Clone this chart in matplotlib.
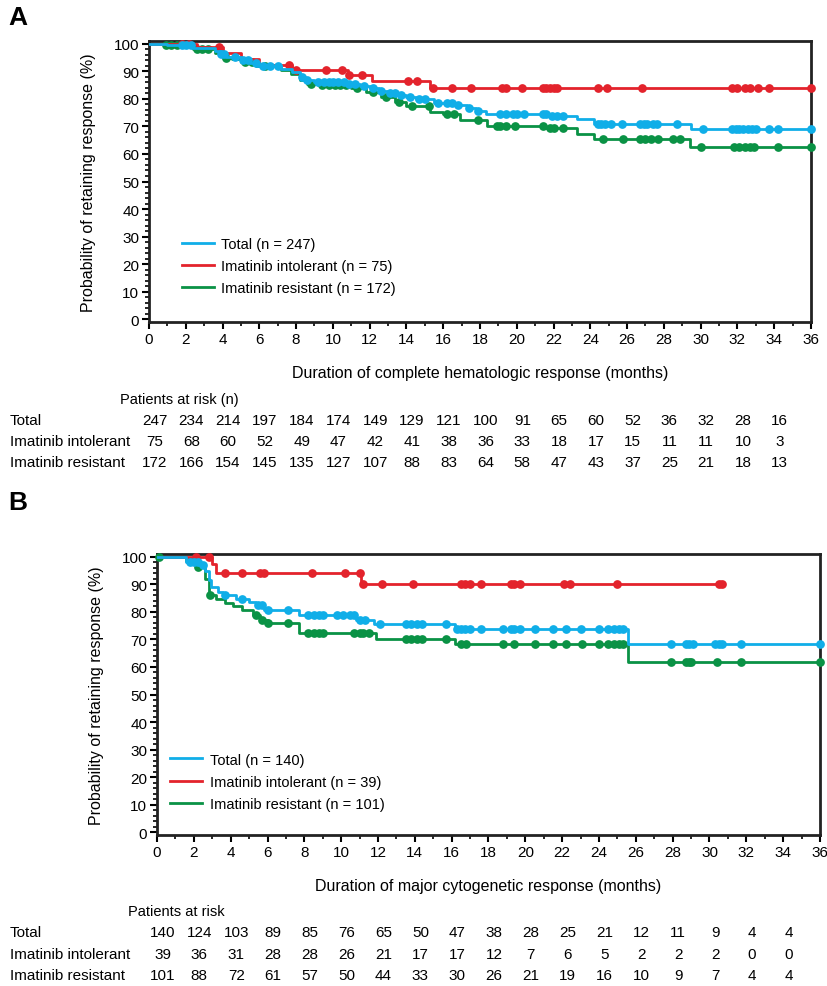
import numpy as np
import matplotlib
matplotlib.use("Agg")
import matplotlib.pyplot as plt
import matplotlib.transforms as mtransforms
from matplotlib.ticker import MultipleLocator

plt.rcParams['font.family'] = ['Liberation Sans', 'DejaVu Sans']

BLUE = "#10aee8"
RED = "#e3232c"
GREEN = "#0a9245"

# ---- Panel A: duration of complete hematologic response ----
a_total_t = [0, 1.0, 2.4, 3.6, 3.9, 4.2, 5.0, 5.5, 5.9, 7.2, 7.8, 8.2, 8.5, 9.0, 10.8, 11.5, 12.0,
             12.5, 13.0, 13.5, 14.0, 14.5, 15.5, 16.8, 17.3, 17.8, 18.3, 21.8, 23.3, 24.2, 29.5]
a_total_s = [100, 99.6, 98.6, 97.5, 96.2, 95.3, 94.0, 93.0, 92.0, 91.0, 89.7, 88.0, 86.7, 86.0, 85.5, 84.6, 84.0,
             83.0, 82.3, 81.5, 80.6, 79.8, 78.5, 77.6, 76.6, 75.6, 74.4, 73.6, 72.8, 70.7, 68.9]
a_total_c = [1.8, 2.0, 2.3, 3.9, 4.1, 4.7, 5.1, 5.4, 5.8, 6.2, 6.6, 7.0, 8.3, 8.6, 9.2, 9.5, 9.8, 10.0,
             10.3, 10.6, 10.9, 11.2, 11.7, 12.2, 12.6, 13.1, 13.4, 13.7, 14.2, 14.7, 15.0, 15.7, 16.2,
             16.5, 16.8, 17.4, 17.9, 19.1, 19.4, 19.8, 20.0, 20.4, 21.4, 21.6, 21.9, 22.2, 22.5, 24.4,
             24.6, 24.8, 25.1, 25.7, 26.7, 26.9, 27.1, 27.4, 27.6, 28.7, 30.1, 31.7, 31.9, 32.1, 32.3,
             32.6, 32.8, 33.0, 33.7, 34.2, 36.0]

a_intol_t = [0, 2.6, 4.0, 5.0, 6.0, 7.8, 10.8, 12.1, 15.3]
a_intol_s = [100, 99.0, 96.5, 94.5, 92.3, 90.3, 88.6, 86.3, 84.0]
a_intol_c = [1.8, 2.2, 3.8, 7.6, 8.0, 9.6, 10.5, 10.9, 11.6, 14.1, 14.6, 15.45, 16.5, 17.5, 19.2,
             19.4, 20.3, 21.4, 21.6, 21.8, 22.0, 22.2, 24.4, 24.9, 26.8, 31.7, 32.0, 32.4, 32.7,
             33.1, 33.7, 36.0]

a_resis_t = [0, 0.8, 2.4, 3.6, 4.0, 4.5, 5.0, 5.8, 7.2, 7.7, 8.2, 8.6, 9.2, 11.0, 11.8, 12.6, 13.4,
             14.0, 15.3, 16.0, 16.9, 18.4, 21.6, 23.3, 24.2, 29.4]
a_resis_s = [100, 99.6, 98.2, 96.5, 95.0, 94.5, 93.5, 92.0, 90.5, 89.0, 87.0, 85.5, 85.0, 84.0, 82.5,
             80.5, 79.0, 77.5, 75.4, 74.5, 72.5, 70.2, 69.3, 67.1, 65.6, 62.6]
a_resis_c = [0.9, 1.2, 1.5, 2.6, 2.9, 3.2, 4.2, 5.2, 5.6, 6.3, 8.8, 9.4, 9.8, 10.1, 10.4, 10.7, 11.3,
             12.2, 12.9, 13.6, 14.3, 15.2, 16.2, 16.6, 17.9, 18.9, 19.1, 19.4, 19.9, 21.4, 21.8,
             22.0, 22.5, 24.7, 25.8, 26.7, 27.0, 27.3, 27.7, 28.5, 28.9, 30.0, 31.8, 32.1, 32.4,
             32.7, 32.9, 34.2, 36.0]

a_risk_total = [247, 234, 214, 197, 184, 174, 149, 129, 121, 100, 91, 65, 60, 52, 36, 32, 28, 16]
a_risk_intol = [75, 68, 60, 52, 49, 47, 42, 41, 38, 36, 33, 18, 17, 15, 11, 11, 10, 3]
a_risk_resis = [172, 166, 154, 145, 135, 127, 107, 88, 83, 64, 58, 47, 43, 37, 25, 21, 18, 13]

# ---- Panel B: duration of major cytogenetic response ----
b_total_t = [0, 1.6, 2.3, 2.6, 2.8, 2.95, 3.3, 3.6, 4.3, 5.0, 5.4, 5.8, 7.7, 10.8, 11.8, 16.2, 25.6]
b_total_s = [100, 98.2, 97.0, 94.8, 91.5, 89.1, 87.3, 86.0, 84.5, 83.5, 82.4, 80.6, 78.8, 77.0, 75.7,
             73.9, 68.5]
b_total_c = [1.8, 2.0, 2.2, 2.5, 3.7, 4.6, 5.5, 5.7, 6.0, 7.1, 8.2, 8.5, 8.8, 9.0, 9.8, 10.1, 10.5,
             10.7, 11.0, 11.3, 12.1, 13.5, 13.8, 14.1, 14.4, 15.7, 16.3, 16.5, 16.7, 17.0, 17.6,
             18.8, 19.2, 19.4, 19.7, 20.5, 21.5, 22.2, 23.0, 24.0, 24.5, 24.8, 25.1, 25.3, 27.9,
             28.7, 28.9, 29.1, 30.3, 30.5, 30.7, 31.7, 36.0]

b_intol_t = [0, 3.0, 3.2, 11.1]
b_intol_s = [100, 97.4, 94.2, 90.0]
b_intol_c = [2.1, 2.8, 3.7, 4.6, 5.6, 5.8, 8.4, 10.2, 11.0, 11.2, 12.2, 13.9, 16.5, 16.7, 17.0,
             17.6, 19.2, 19.4, 19.7, 22.1, 22.4, 25.0, 30.5, 30.7]

b_resis_t = [0, 1.6, 2.1, 2.6, 2.8, 3.2, 3.7, 4.1, 4.6, 5.2, 5.6, 6.0, 7.7, 11.9, 16.2, 25.6]
b_resis_s = [100, 98.5, 96.4, 92.0, 86.0, 84.5, 83.3, 82.0, 80.5, 79.0, 77.2, 76.0, 72.4, 70.3,
             68.3, 61.8]
b_resis_c = [0.1, 1.8, 2.0, 2.2, 2.9, 5.4, 5.7, 6.0, 7.1, 8.2, 8.5, 8.8, 9.0, 10.7, 11.0, 11.2,
             11.5, 13.5, 13.8, 14.1, 14.4, 15.7, 16.5, 16.8, 18.8, 19.4, 20.5, 21.5, 22.2, 23.1,
             24.0, 24.5, 24.8, 25.1, 25.3, 27.9, 28.7, 28.9, 29.0, 30.4, 31.7, 36.0]

b_risk_total = [140, 124, 103, 89, 85, 76, 65, 50, 47, 38, 28, 25, 21, 12, 11, 9, 4, 4]
b_risk_intol = [39, 36, 31, 28, 28, 26, 21, 17, 17, 12, 7, 6, 5, 2, 2, 2, 0, 0]
b_risk_resis = [101, 88, 72, 61, 57, 50, 44, 33, 30, 26, 21, 19, 16, 10, 9, 7, 4, 4]

risk_months = np.arange(0, 36, 2)
row_names = ["Total", "Imatinib intolerant", "Imatinib resistant"]

W, H = 828, 987
fig = plt.figure(figsize=(W / 100, H / 100), dpi=100)


def px_axes(left, top, right, bottom):
    return fig.add_axes([left / W, 1 - bottom / H, (right - left) / W, (bottom - top) / H])


def km(ax, t, s, cens, color, end=36.0, label=None):
    t = np.array(t, float)
    s = np.array(s, float)
    tt = np.append(t, end)
    ss = np.append(s, s[-1])
    ax.step(tt, ss, where="post", color=color, lw=2.0, label=label, zorder=3)
    c = np.array(cens, float)
    cy = s[np.searchsorted(t, c, side="right") - 1]
    ax.plot(c, cy, "o", color=color, ms=6.3, mew=0, zorder=3, clip_on=False)


def style(ax):
    ax.set_xlim(0, 36)
    ax.set_ylim(-1, 101)
    ax.xaxis.set_major_locator(MultipleLocator(2))
    ax.xaxis.set_minor_locator(MultipleLocator(1))
    ax.yaxis.set_major_locator(MultipleLocator(10))
    ax.yaxis.set_minor_locator(MultipleLocator(2))
    ax.tick_params(which="major", length=5, width=1.5, labelsize=11, pad=2)
    ax.tick_params(which="minor", length=3, width=1.2)
    for sp in ax.spines.values():
        sp.set_linewidth(2)
        sp.set_color("#222222")
    ax.set_ylabel("Probability of retaining response (%)", fontsize=11.5, labelpad=13)


def risk_table(ax, heading, head_y, row_ys, rows):
    tr = mtransforms.blended_transform_factory(ax.transData, fig.transFigure)
    fig.text(ax.get_position().x0 - 0.035, 1 - head_y / H, heading, fontsize=10.5, va="center")
    for name, ry, vals in zip(row_names, row_ys, rows):
        fig.text(10 / W, 1 - ry / H, name, fontsize=11, va="center")
        for m, v in zip(risk_months, vals):
            ax.text(m + 0.3, 1 - ry / H, str(v), transform=tr, ha="center", va="center",
                    fontsize=11)


# Panel A
axA = px_axes(149, 42, 811, 323)
km(axA, a_resis_t, a_resis_s, a_resis_c, GREEN, label="Imatinib resistant (n = 172)")
km(axA, a_intol_t, a_intol_s, a_intol_c, RED, label="Imatinib intolerant (n = 75)")
km(axA, a_total_t, a_total_s, a_total_c, BLUE, label="Total (n = 247)")
style(axA)
axA.set_xlabel("Duration of complete hematologic response (months)", fontsize=11.5, labelpad=14)
h, l = axA.get_legend_handles_labels()
axA.legend(h[::-1], l[::-1], loc="lower left", bbox_to_anchor=(0.03, 0.05), frameon=False,
           fontsize=10.5, handlelength=2.2, handletextpad=0.5, labelspacing=0.55)
risk_table(axA, "Patients at risk (n)", 400, [421, 442, 463],
           [a_risk_total, a_risk_intol, a_risk_resis])
fig.text(8 / W, 1 - 18 / H, "A", fontsize=19, fontweight="bold", va="center")

# Panel B
axB = px_axes(157, 555, 820, 836)
km(axB, b_resis_t, b_resis_s, b_resis_c, GREEN, label="Imatinib resistant (n = 101)")
km(axB, b_intol_t, b_intol_s, b_intol_c, RED, end=30.8, label="Imatinib intolerant (n = 39)")
km(axB, b_total_t, b_total_s, b_total_c, BLUE, label="Total (n = 140)")
style(axB)
axB.set_xlabel("Duration of major cytogenetic response (months)", fontsize=11.5, labelpad=14)
h, l = axB.get_legend_handles_labels()
axB.legend(h[::-1], l[::-1], loc="lower left", bbox_to_anchor=(0.0, 0.04), frameon=False,
           fontsize=10.5, handlelength=2.2, handletextpad=0.5, labelspacing=0.55)
risk_table(axB, "Patients at risk", 912, [933, 955, 976],
           [b_risk_total, b_risk_intol, b_risk_resis])
fig.text(8 / W, 1 - 503 / H, "B", fontsize=19, fontweight="bold", va="center")

fig.savefig("out.png", dpi=100)
